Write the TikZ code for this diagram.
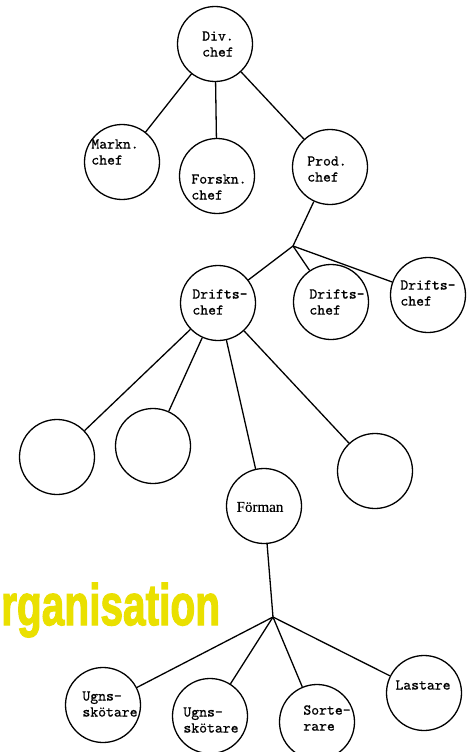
\documentclass[tikz,border=0pt]{standalone}
\usepackage{fontspec}
\newfontfamily\heavysans[FakeBold=2.5]{Liberation Sans Bold}
\newfontfamily\serifb[FakeBold=0.3]{Liberation Serif}
\newfontfamily\tw[FakeBold=0.8]{lmmono10-regular.otf}
\definecolor{titleyellow}{RGB}{234,224,0}
\begin{document}
\begin{tikzpicture}[x=1pt,y=-1pt,
  person/.style={circle,draw=black,line width=1.3pt,minimum size=75pt,inner sep=0pt},
  lbl/.style={align=left,inner sep=0pt,font=\tw\fontsize{15}{16}\selectfont},
  conn/.style={line width=1.3pt,black}]
\useasboundingbox[fill=white] (0,0) rectangle (476,752);
% title
\node[anchor=base west,inner sep=0pt,text=titleyellow,font=\heavysans\fontsize{58}{58}\selectfont] (title) at (1,625) {\scalebox{0.70}[1]{rganisation}};
% circles
\node[person] (div) at (215,44) {};
\node[person] (markn) at (122,162) {};
\node[person] (forskn) at (217,176) {};
\node[person] (prod) at (330,167) {};
\coordinate (j1) at (293,246);
\node[person] (d1) at (218,303) {};
\node[person] (d2) at (331,302) {};
\node[person] (d3) at (428,295) {};
\node[person] (e1) at (57,457) {};
\node[person] (e2) at (153,446) {};
\node[person] (forman) at (264,506) {};
\node[person] (e4) at (375,471) {};
\coordinate (j2) at (273,617);
\node[person] (u1) at (103,705) {};
\node[person] (u2) at (210,716) {};
\node[person] (sort) at (317,722) {};
\node[person] (last) at (424,693) {};
% labels
\node[lbl] (tdiv) at (218,44) {Div.\\chef};
\node[lbl] (tmarkn) at (115,152) {Markn.\\chef};
\node[lbl] (tforskn) at (219,187) {Forskn.\\chef};
\node[lbl] (tprod) at (327,169) {Prod.\\chef};
\node[lbl] (td1) at (220,302) {Drifts-\\chef};
\node[lbl] (td2) at (337,302) {Drifts-\\chef};
\node[lbl] (td3) at (428,293) {Drifts-\\chef};
\node[inner sep=0pt,font=\serifb\fontsize{15}{16}\selectfont] (tforman) at (260,507) {Förman};
\node[lbl] (tu1) at (110,704) {Ugns-\\skötare};
\node[lbl] (tu2) at (211,720) {Ugns-\\skötare};
\node[lbl] (tsort) at (327,718) {Sorte-\\rare};
\node[lbl] (tlast) at (423,685) {Lastare};
% connectors
\draw[conn] (div) -- (markn);
\draw[conn] (div) -- (forskn);
\draw[conn] (div) -- (prod);
\draw[conn] (prod) -- (j1);
\draw[conn] (j1) -- (d1);
\draw[conn] (j1) -- (d2);
\draw[conn] (j1) -- (d3);
\draw[conn] (d1) -- (e1);
\draw[conn] (d1) -- (e2);
\draw[conn] (d1) -- (forman);
\draw[conn] (d1) -- (e4);
\draw[conn] (forman) -- (j2);
\draw[conn] (j2) -- (u1);
\draw[conn] (j2) -- (u2);
\draw[conn] (j2) -- (sort);
\draw[conn] (j2) -- (last);
\end{tikzpicture}
\end{document}
